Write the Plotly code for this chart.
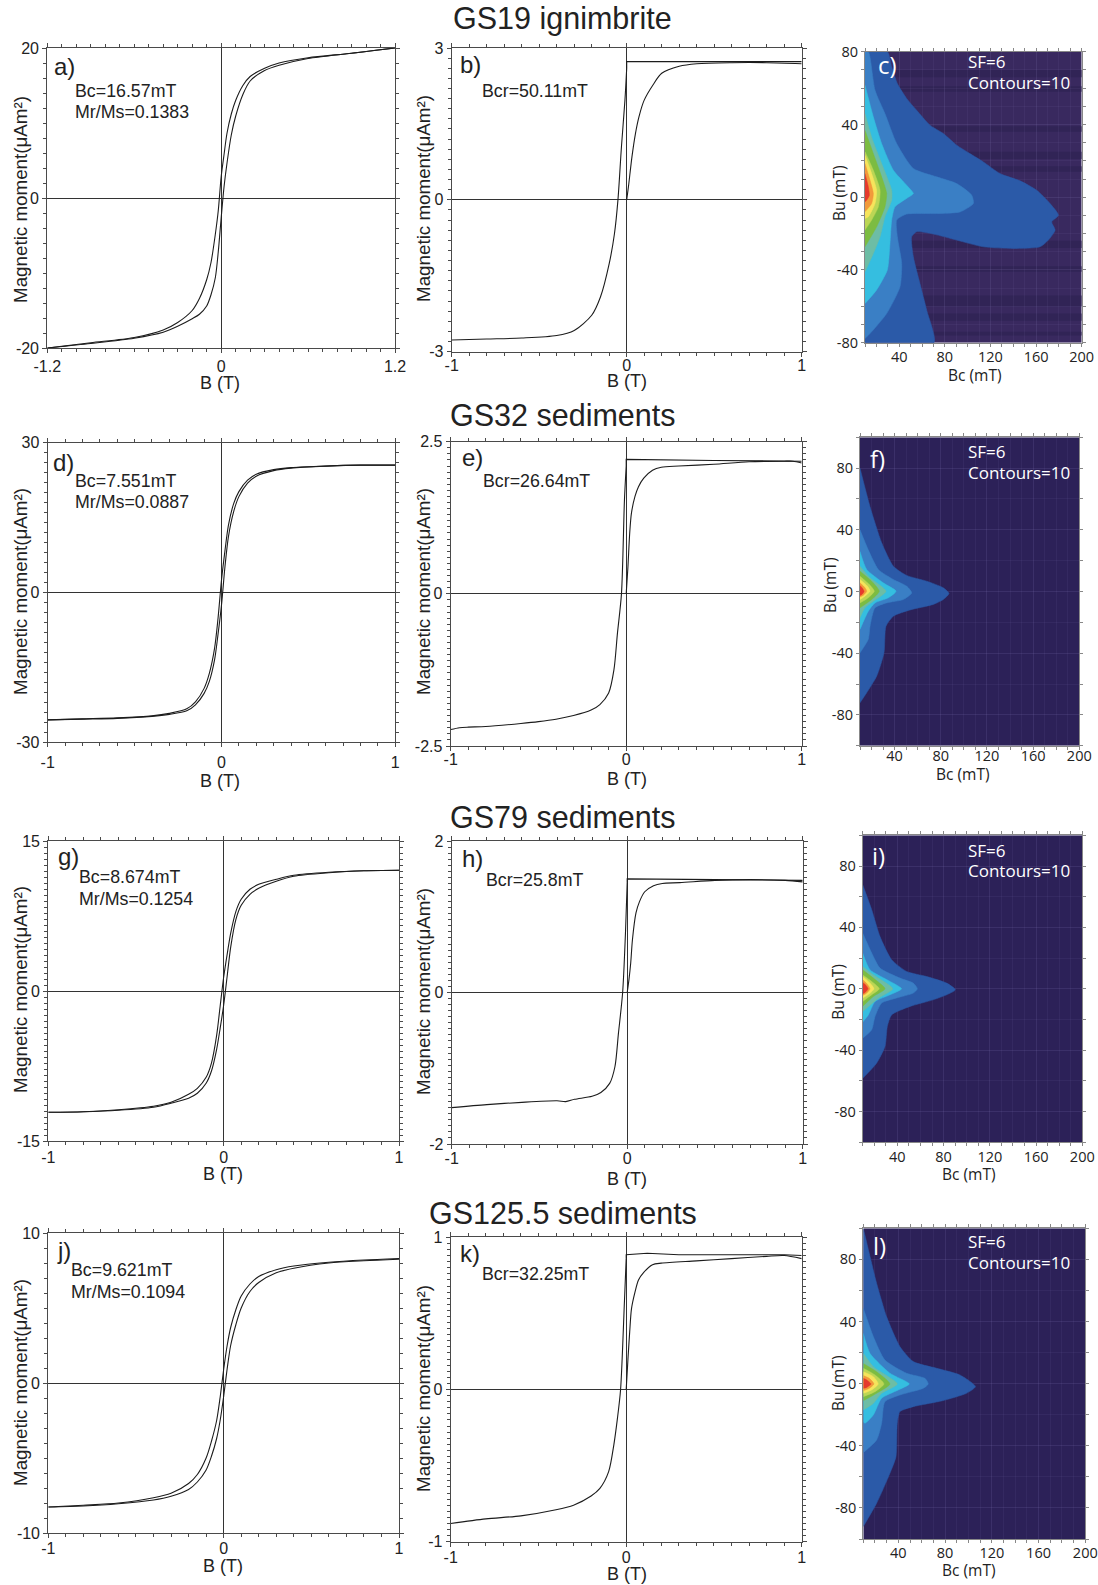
import plotly.graph_objects as go

W, H = 1098, 1585

# ---------- hysteresis loops: B (T), upper and lower branch (uAm2) ----------
A_B = [-1.2,-0.9,-0.6,-0.4,-0.3,-0.2,-0.15,-0.1,-0.07,-0.04,-0.02,0,0.02,0.04,0.07,0.1,0.15,0.2,0.3,0.4,0.6,0.9,1.2]
LOOP_B = [-1,-0.8,-0.6,-0.4,-0.3,-0.2,-0.15,-0.1,-0.07,-0.04,-0.02,0,0.02,0.04,0.07,0.1,0.15,0.2,0.3,0.4,0.6,0.8,1]
A_UP = [-20,-19.3,-18.6,-17.6,-16.6,-15.0,-13.4,-10.9,-8.6,-4.8,-1.7,2.8,5.8,8.6,11.2,13.0,15.0,16.2,17.3,18.0,18.7,19.3,20]
A_LO = [-20,-19.4,-18.7,-17.9,-17.1,-16.1,-15.5,-14.4,-12.9,-10.6,-7.2,-2.7,1.5,4.6,8.4,10.9,13.8,15.6,17.0,17.7,18.6,19.3,20]
D_UP = [-25.5,-25.3,-25.1,-24.7,-24.2,-23.3,-21.9,-19.2,-16.2,-11.2,-5.2,2.5,8.4,13.5,17.8,20.2,22.5,23.7,24.6,25,25.3,25.5,25.5]
D_LO = [-25.5,-25.35,-25.2,-24.8,-24.4,-23.7,-22.5,-20.2,-17.8,-13.5,-8.4,-2.5,5.2,11.2,16.2,19.2,21.9,23.3,24.4,24.9,25.3,25.5,25.5]
G_UP = [-12.1,-12.05,-11.85,-11.5,-11.1,-10.3,-9.7,-8.6,-7.2,-4.4,-1.5,1.4,3.7,5.8,8.0,9.2,10.2,10.7,11.2,11.6,11.9,12.05,12.1]
G_LO = [-12.1,-12.05,-11.9,-11.6,-11.2,-10.7,-10.2,-9.2,-8.0,-5.8,-3.7,-1.4,1.5,4.4,7.2,8.6,9.7,10.3,11.0,11.5,11.85,12.05,12.1]
J_UP = [-8.27,-8.15,-8.0,-7.65,-7.35,-6.7,-6.1,-5.0,-3.9,-2.5,-0.95,0.9,2.5,3.7,4.9,5.8,6.6,7.1,7.55,7.8,8.05,8.2,8.3]
J_LO = [-8.27,-8.2,-8.05,-7.8,-7.55,-7.1,-6.6,-5.8,-4.9,-3.7,-2.5,-0.9,0.95,2.5,3.9,5.0,6.1,6.7,7.35,7.65,8.0,8.15,8.25]

# ---------- remanence curves: backfield rise, saturated plateau, and IRM ----------
B_MAIN_B = [-1,-0.8,-0.6,-0.4,-0.3,-0.2,-0.15,-0.1,-0.07,-0.05,-0.03,-0.01,0]
B_MAIN_M = [-2.77,-2.75,-2.73,-2.68,-2.58,-2.28,-1.92,-1.26,-0.67,0,1.05,1.97,2.6]
B_FLAT_B = [0,0,1]
B_FLAT_M = [2.6,2.73,2.73]
B_IRM_B = [0,0.01,0.03,0.05,0.07,0.1,0.15,0.2,0.3,0.4,0.6,0.8,1]
B_IRM_M = [0,0.26,0.85,1.31,1.64,1.97,2.27,2.5,2.64,2.69,2.71,2.71,2.69]
E_MAIN_B = [-1,-0.95,-0.9,-0.8,-0.6,-0.5,-0.4,-0.3,-0.2,-0.15,-0.1,-0.07,-0.05,-0.027,-0.01,0]
E_MAIN_M = [-2.23,-2.2,-2.19,-2.18,-2.13,-2.10,-2.06,-2.0,-1.91,-1.82,-1.63,-1.25,-0.65,0,1.54,2.1]
E_FLAT_B = [0,0,0.5,0.9,1]
E_FLAT_M = [2.1,2.21,2.19,2.18,2.18]
E_IRM_B = [0,0.01,0.02,0.03,0.05,0.07,0.1,0.15,0.2,0.3,0.5,0.7,0.9,0.95,1]
E_IRM_M = [0,0.45,1.0,1.33,1.6,1.76,1.9,2.03,2.08,2.10,2.13,2.17,2.18,2.18,2.15]
H_MAIN_B = [-1,-0.8,-0.6,-0.4,-0.35,-0.3,-0.2,-0.15,-0.1,-0.07,-0.05,-0.026,-0.01,0]
H_MAIN_M = [-1.52,-1.48,-1.45,-1.43,-1.44,-1.41,-1.37,-1.32,-1.2,-0.98,-0.54,0,0.78,1.45]
H_FLAT_B = [0,0,0.5,1]
H_FLAT_M = [1.45,1.5,1.49,1.48]
H_IRM_B = [0,0.01,0.02,0.03,0.05,0.07,0.1,0.15,0.2,0.3,0.5,0.7,0.9,1]
H_IRM_M = [0,0.17,0.39,0.7,1.05,1.2,1.33,1.41,1.44,1.45,1.48,1.49,1.48,1.46]
K_MAIN_B = [-1,-0.8,-0.6,-0.4,-0.3,-0.2,-0.15,-0.1,-0.07,-0.05,-0.032,-0.01,0]
K_MAIN_M = [-0.88,-0.85,-0.83,-0.79,-0.76,-0.70,-0.65,-0.54,-0.36,-0.19,0,0.58,0.86]
K_FLAT_B = [0,0,0.12,0.3,0.6,0.9,1]
K_FLAT_M = [0.86,0.885,0.895,0.885,0.885,0.885,0.88]
K_IRM_B = [0,0.01,0.02,0.03,0.05,0.07,0.1,0.15,0.2,0.4,0.6,0.8,0.9,1]
K_IRM_M = [0,0.2,0.38,0.53,0.64,0.72,0.77,0.82,0.83,0.845,0.86,0.875,0.88,0.86]

# ---------- FORC contour outlines, outer level to inner level: Bc, Bu (mT) ----------
C_LEVELS = [
 ([10,29.6,33.4,38.4,46.5,55.3,67,78.7,90.4,102,113.8,128.4,146,160.6,172.3,179.6,173.7,176.7,170.8,163.5,140,113.8,90.4,70,55.3,50.9,52.4,58.2,64.1,70.5,10],
  [80,80,71.7,62.5,54.3,47.8,39.6,35,28.6,24,19.4,13,9,3.8,-3.5,-9.9,-13.6,-18.1,-23.6,-27.3,-28.2,-27.3,-23.6,-20.3,-19,-21.8,-32.8,-47.5,-62.1,-80,-80]),
 ([10,13,18.8,27.5,37.8,52.4,72.9,90.4,103.6,105,93.3,72.9,46.5,37.8,38.4,42.2,40.7,29,14.4,10],
  [80,80,58.8,46,29.5,15.8,11.2,7.5,1.1,-3.5,-8.1,-9,-9.3,-12.6,-21.8,-36.5,-49.3,-64,-75,-77.7]),
 ([10,17.3,24.6,34.9,46.5,52.4,46.5,36.3,33.4,31.9,29.6,20.2,10],
  [61.6,44.2,29.5,14.8,6.6,2,-0.7,-5.3,-12.6,-25.5,-40,-51,-58.5]),
 ([10,15.8,24.6,33.4,33.4,27.5,23.2,17.3,10],[46,33,18.5,3.8,-1.6,-10.8,-21.8,-31,-41]),
 ([10,17.3,24.6,29,27.5,20.2,10],[36.8,24,11.2,2,-5.3,-16.3,-27.3]),
 ([10,17.3,23.2,21.7,15.8,10],[25,14.8,3.8,-5.3,-12.6,-18]),
 ([10,15.8,20.2,18.8,12.9,10],[23,13,3.8,-3.5,-10.8,-11.7]),
 ([10,14.4,17.3,15.8,10],[18.5,9.3,2,-3.5,-8]),
 ([10,12.9,13.8,11.5,10],[13,5.7,1,-1.6,-2.6]),
]
F_LEVELS = [
 ([10,18.7,28.8,38.9,50.5,67.8,82.2,87.1,82.2,73.5,53.3,38.9,32.5,30.8,24.4,15.8,10],
  [80,55,31.6,16.4,10.4,6.7,2.4,-1.3,-5.2,-8.4,-12,-16,-22.5,-39.8,-55,-65.7,-72.2]),
 ([10,17.2,25.9,38.9,50.4,54.8,47.5,33.1,23,18.7,17.2,10],[40,27,14.3,7.8,3.5,-0.9,-5.2,-7.4,-10.6,-22.5,-31,-39.8]),
 ([10,15.8,30.2,41.2,34.6,23,17.2,10],[26,14.3,5.6,0.2,-4.1,-7.4,-12.8,-24.6]),
 ([10,18.7,32.5,21.5,14.3,10],[16.4,8.9,0.2,-6.3,-10.6,-17]),
 ([10,20.1,26.7,20.1,10],[13.2,6.7,0.2,-5.2,-10.6]),
 ([10,18.7,22.4,17.2,10],[9.9,4.1,0.2,-4.1,-7.4]),
 ([10,16.4,18.7,14.3,10],[7.8,3.5,0.2,-3,-5.2]),
 ([10,14.3,15.8,12.9,10],[5.6,2.4,0.2,-2.4,-3.5]),
 ([10,12.3,13.5,11.7,10],[3.9,1.9,0,-1.9,-2.6]),
]
I_LEVELS = [
 ([10,17.8,25,35,48,65.4,82.7,90.2,82.7,71,51,35,31.3,29.3,22,10],
  [67.8,51.5,34,19,11.3,8,3.7,-0.7,-3.9,-7.2,-11.5,-17,-24.6,-37.6,-48.5,-58.3]),
 ([10,17.8,25,42.3,53.8,57.3,53.8,39.4,26.4,20.7,17.8,10],[36.3,23.3,13.5,7,3.7,0,-2.8,-6,-9.3,-18,-26.7,-32.2]),
 ([10,16.3,31,43.7,33.7,20.7,14.9,10],[23.3,12.4,5.9,0,-3.9,-8.3,-17,-21.7]),
 ([10,19.2,36,23.9,10],[14.6,9.1,0,-6,-14.8]),
 ([10,19.2,29.3,19.2,10],[12.4,7,0,-5,-11.5]),
 ([10,17.8,24.4,17.8,10],[9,4.8,0,-3.9,-8.3]),
 ([10,16.3,19.8,15.8,10],[8,3.7,0,-3.3,-6]),
 ([10,14,16.3,13.5,10],[5.9,3,0,-2.8,-4.3]),
 ([10,12.9,14.6,12.3,10],[4.1,2.2,0,-2.2,-3.3]),
]
L_LEVELS = [
 ([10,15.1,21.4,30,41.4,52.8,72.8,92.7,106,98.4,77.8,52.8,41.4,39.1,38,32.8,21.4,10],
  [100,83.9,64.6,43,23.8,14.2,9.9,5.6,-1.9,-6.2,-11,-14.8,-18,-25.5,-47,-57.7,-77,-92]),
 ([10,18.6,28.5,47,62.8,65.6,61.4,41.4,28.5,25.7,21.4,10],[48.5,30.3,15.2,6.7,3.4,-0.2,-3,-7.3,-11.6,-25.5,-36.3,-44.4]),
 ([10,15.7,32.8,49.4,39.9,25.7,18.6,11.4,10],[32.4,19.5,6.7,-0.2,-4.1,-9.4,-20.2,-25.5,-24.5]),
 ([10,18.6,39.1,25.7,18.6,10],[19.5,10.9,-0.2,-6.2,-12.7,-17]),
 ([10,21.4,32.8,21.4,10],[13,7.7,-0.2,-6.2,-11]),
 ([10,20,27.7,20,10],[9.9,5.6,-0.2,-5.2,-8.4]),
 ([10,18.6,22.8,17.1,10],[7.7,4.5,-0.2,-4.1,-6.2]),
 ([10,15.1,19.1,15.1,10],[5.2,3.4,-0.2,-3,-4.5]),
 ([10,12.9,16.6,12.9,10],[3.4,2.4,-0.2,-2.4,-3]),
]
LEVEL_COLORS = ["#2b5aa8","#3a7fc5","#35bee0","#6dbda5","#7cbc42","#bcd655","#f6e45c","#f29a3b","#e53a2d"]
C_DARK_BANDS = [(66,70),(58,61),(36,39),(21,25),(14,17),(-24,-28),(-38,-41),(-54,-60),(-64,-68),(-74,-76)]

# ---------- panels ----------
LOOP_PANELS = [
 dict(n=1,box=(47.3,395,48,348),xr=1.2,yr=20,ymin=2,curves=[(A_B,A_UP),(A_B,A_LO)],flat=None,stand=0),
 dict(n=2,box=(451.7,801.7,48,351.7),xr=1,yr=3,ymin=.2,curves=[(B_MAIN_B,B_MAIN_M),(B_IRM_B,B_IRM_M)],flat=(B_FLAT_B,B_FLAT_M),stand=-5),
 dict(n=4,box=(47.7,395.3,442.7,742.3),xr=1,yr=30,ymin=2,curves=[(LOOP_B,D_UP),(LOOP_B,D_LO)],flat=None,stand=1),
 dict(n=5,box=(450.7,801.7,441.7,746),xr=1,yr=2.5,ymin=.1,curves=[(E_MAIN_B,E_MAIN_M),(E_IRM_B,E_IRM_M)],flat=(E_FLAT_B,E_FLAT_M),stand=-5),
 dict(n=7,box=(48.3,399,841.3,1141.3),xr=1,yr=15,ymin=.6,curves=[(LOOP_B,G_UP),(LOOP_B,G_LO)],flat=None,stand=-3),
 dict(n=8,box=(451.7,802.7,841,1144),xr=1,yr=2,ymin=.08,curves=[(H_MAIN_B,H_MAIN_M),(H_IRM_B,H_IRM_M)],flat=(H_FLAT_B,H_FLAT_M),stand=-4),
 dict(n=10,box=(48.3,399,1233,1533),xr=1,yr=10,ymin=1,curves=[(LOOP_B,J_UP),(LOOP_B,J_LO)],flat=None,stand=-3),
 dict(n=11,box=(450.7,801.7,1237.3,1541.7),xr=1,yr=1,ymin=.04,curves=[(K_MAIN_B,K_MAIN_M),(K_IRM_B,K_IRM_M)],flat=(K_FLAT_B,K_FLAT_M),stand=-3),
]
FORC_PANELS = [
 dict(n=3,box=(865,1081.7,51.7,342.7),yr=80,ymin=10,levels=C_LEVELS,bg="#39295f",bands=C_DARK_BANDS,stand=-2),
 dict(n=6,box=(860,1079.3,437.3,745.7),yr=100,ymin=20,levels=F_LEVELS,bg="#2c2158",bands=[],stand=-6),
 dict(n=9,box=(862.7,1082.3,835.3,1142.3),yr=100,ymin=20,levels=I_LEVELS,bg="#2c2158",bands=[],stand=-2),
 dict(n=12,box=(863.3,1085.3,1228.3,1539),yr=100,ymin=20,levels=L_LEVELS,bg="#2c2158",bands=[],stand=-2),
]

# ---------- texts ----------
SANS = "Liberation Sans"
FORC = "Open Sans"
TITLES = [("GS19 ignimbrite",562.8,19),("GS32 sediments",562.8,415),("GS79 sediments",562.8,817),("GS125.5 sediments",562.7,1213)]
LETTERS = [("a)",54,66,"#222"),("b)",460,64,"#222"),("c)",878,65,"white"),("d)",53,462,"#222"),("e)",461.7,457,"#222"),("f)",870,458,"white"),
           ("g)",58,857,"#222"),("h)",462,858,"#222"),("i)",872,855,"white"),("j)",57,1250,"#222"),("k)",460,1253,"#222"),("l)",873,1245,"white")]
NOTES = [("Bc=16.57mT",75,90.7),("Mr/Ms=0.1383",75,111.7),("Bcr=50.11mT",481.7,90.7),
         ("Bc=7.551mT",75,480.7),("Mr/Ms=0.0887",75,501.7),("Bcr=26.64mT",483,480.7),
         ("Bc=8.674mT",78.7,877),("Mr/Ms=0.1254",78.7,899),("Bcr=25.8mT",486,880),
         ("Bc=9.621mT",71,1270),("Mr/Ms=0.1094",71,1291.7),("Bcr=32.25mT",481.7,1274)]
FORC_NOTES = [("SF=6",968,62),("Contours=10",968,82.7),("SF=6",968,452),("Contours=10",968,472.7),
              ("SF=6",968,850),("Contours=10",968,871),("SF=6",968,1241.7),("Contours=10",968,1262.7)]
B_TITLES = [(220,383),(627,381),(220,781),(627,779),(223,1174),(627,1179),(223,1566),(627,1574)]
M_TITLES = [(20,200),(423,199),(20,592),(423,592),(20,990),(423,992),(20,1383),(423,1389)]
BC_TITLES = [(975,375),(962.7,774),(969,1174),(969,1570)]
BU_TITLES = [(839,193),(830,585),(837.7,992),(838,1383)]

fig = go.Figure()

def axname(letter, n):
    return f"{letter}axis" if n == 1 else f"{letter}axis{n}"

def ref(letter, n):
    return letter if n == 1 else f"{letter}{n}"

FRAME = "#4a4a4a"
INK = "#1c1c1c"
for p in LOOP_PANELS:
    n = p["n"]; l, r, t, b = p["box"]
    xr, yr = p["xr"], p["yr"]
    common = dict(showgrid=False, showline=True, linecolor=FRAME, linewidth=1.2, mirror="allticks",
                  ticks="outside", ticklen=4, tickwidth=1, tickcolor=FRAME,
                  zeroline=True, zerolinecolor="#333", zerolinewidth=1.2,
                  tickfont=dict(family=SANS, size=16, color="#222"))
    fig.layout[axname("x", n)] = dict(common, domain=[l/W, r/W], range=[-xr, xr], anchor=ref("y", n),
        tickmode="array", tickvals=[-xr, 0, xr], ticktext=[f"{-xr:g}", "0", f"{xr:g}"], ticklabelstandoff=p["stand"],
        minor=dict(dtick=0.1, tick0=0, ticks="outside", ticklen=3, tickcolor=FRAME))
    fig.layout[axname("y", n)] = dict(common, domain=[1-b/H, 1-t/H], range=[-yr, yr], anchor=ref("x", n),
        tickmode="array", tickvals=[-yr, 0, yr], ticktext=[f"{-yr:g}", "0", f"{yr:g}"],
        minor=dict(dtick=p["ymin"], tick0=0, ticks="outside", ticklen=3, tickcolor=FRAME))
    for cx, cy in p["curves"]:
        fig.add_trace(go.Scatter(x=cx, y=cy, mode="lines", xaxis=ref("x", n), yaxis=ref("y", n), showlegend=False,
                                 hoverinfo="skip", line=dict(color=INK, width=1.1, shape="spline", smoothing=0.8)))
    if p["flat"]:
        fig.add_trace(go.Scatter(x=p["flat"][0], y=p["flat"][1], mode="lines", xaxis=ref("x", n), yaxis=ref("y", n), showlegend=False,
                                 hoverinfo="skip", line=dict(color=INK, width=1.1)))

GRID = "rgba(130,120,180,0.10)"
for p in FORC_PANELS:
    n = p["n"]; l, r, t, b = p["box"]
    yr = p["yr"]
    xt = [40, 80, 120, 160, 200]
    yt = [-80, -40, 0, 40, 80]
    common = dict(showline=True, linecolor="#888", linewidth=1, mirror="allticks", ticks="outside", ticklen=3,
                  tickwidth=1, tickcolor="#888", zeroline=False, showgrid=True, gridcolor=GRID, gridwidth=1,
                  tickfont=dict(family=FORC, size=14.5, color="#222"))
    fig.layout[axname("x", n)] = dict(common, domain=[l/W, r/W], range=[10, 200], anchor=ref("y", n),
        tickmode="array", tickvals=xt, ticktext=[str(v) for v in xt], ticklabelstandoff=p["stand"],
        minor=dict(dtick=10, tick0=0, ticks="outside", ticklen=3, tickcolor="#888", showgrid=True, gridcolor=GRID))
    fig.layout[axname("y", n)] = dict(common, domain=[1-b/H, 1-t/H], range=[-yr, yr], anchor=ref("x", n),
        tickmode="array", tickvals=yt, ticktext=[str(v) for v in yt],
        minor=dict(dtick=p["ymin"], tick0=0, ticks="outside", ticklen=3, tickcolor="#888", showgrid=True, gridcolor=GRID))
    fig.add_shape(type="rect", xref=ref("x", n), yref=ref("y", n), x0=10, x1=200, y0=-yr, y1=yr, fillcolor=p["bg"], line_width=0, layer="below")
    for lo, hi in p["bands"]:
        fig.add_shape(type="rect", xref=ref("x", n), yref=ref("y", n), x0=10, x1=200, y0=lo, y1=hi, fillcolor="#312456", line_width=0, layer="below")
    for (bc, bu), col in zip(p["levels"], LEVEL_COLORS):
        fig.add_trace(go.Scatter(x=bc, y=bu, mode="lines", fill="toself", fillcolor=col, xaxis=ref("x", n), yaxis=ref("y", n),
                                 showlegend=False, hoverinfo="skip", line=dict(color=col, width=0.5, shape="spline", smoothing=0.6)))

def note(text, x, y, size, color="#222", anchor="left", family=SANS, angle=0):
    fig.add_annotation(text=text, x=x/W, y=1-y/H, xref="paper", yref="paper", showarrow=False, xanchor=anchor, yanchor="middle",
                       font=dict(family=family, size=size, color=color), textangle=angle, borderpad=0, borderwidth=0)

for s, x, y in TITLES:
    note(s, x, y, 30.5, "#222", "center")
for s, x, y, c in LETTERS:
    note(s, x, y, 24, c, "left", SANS if c != "white" else FORC)
for s, x, y in NOTES:
    note(s, x, y, 17.8)
for s, x, y in FORC_NOTES:
    note(s, x, y, 17, "white", "left", FORC)
for x, y in B_TITLES:
    note("B (T)", x, y, 18, "#222", "center")
for x, y in M_TITLES:
    note("Magnetic moment(μAm²)", x, y, 18.8, "#222", "center", SANS, -90)
for x, y in BC_TITLES:
    note("Bc (mT)", x, y, 15.5, "#222", "center", FORC)
for x, y in BU_TITLES:
    note("Bu (mT)", x, y, 15.5, "#222", "center", FORC, -90)

fig.update_layout(width=W, height=H, margin=dict(l=0, r=0, t=0, b=0, autoexpand=False), paper_bgcolor="white", plot_bgcolor="white",
                  showlegend=False, autosize=False)
fig.write_html("out.html", config=dict(displayModeBar=False),
               post_script="document.body.style.margin='0';document.body.style.overflow='hidden';")
